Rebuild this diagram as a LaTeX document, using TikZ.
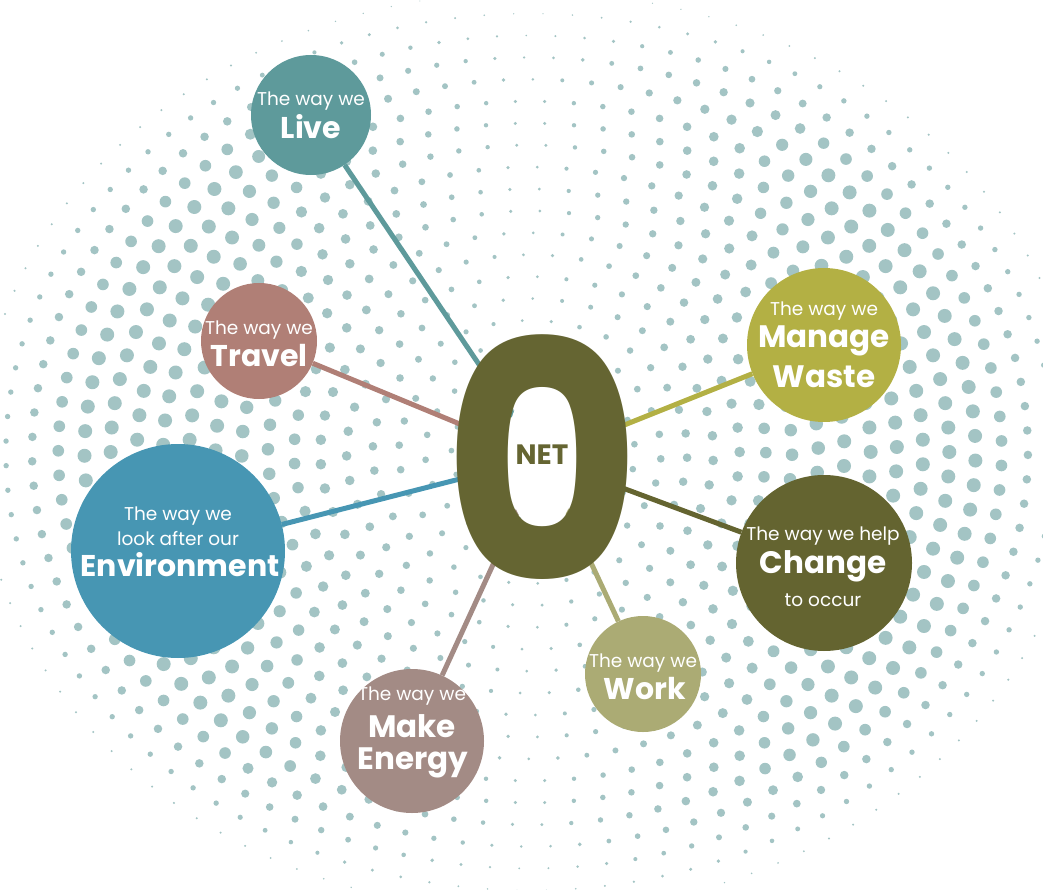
\documentclass[tikz,border=0pt]{standalone}
\usepackage{fontspec}
\setmainfont{Poppins}
\usetikzlibrary{positioning}
\definecolor{nzdot}{HTML}{A3C4C4}
\definecolor{nzlive}{HTML}{5E9A9B}
\definecolor{nztravel}{HTML}{B07F76}
\definecolor{nzenv}{HTML}{4796B3}
\definecolor{nzwaste}{HTML}{B3B044}
\definecolor{nzchange}{HTML}{646430}
\definecolor{nzwork}{HTML}{ABAB74}
\definecolor{nzenergy}{HTML}{A38B85}
\definecolor{nzzero}{HTML}{656532}

\tikzset{
  bubble/.style={circle, inner sep=0pt, minimum size=#1},
  spoke/.style={line width=5pt},
  waylbl/.style={text=white, inner sep=0pt, font=\fontsize{18.5}{18.5}\selectfont},
  keylbl/.style={text=white, inner sep=0pt, font=\bfseries\fontsize{#1}{#1}\selectfont},
  keylbl/.default=30,
}

\begin{document}
\begin{tikzpicture}[x=1pt, y=-1pt]
  \useasboundingbox (0,0) rectangle (1043,890);

  % halftone dots
  \foreach \k in {2,...,21}{
    \pgfmathsetmacro{\tk}{\k/20.3}
    \pgfmathtruncatemacro{\nk}{round(6.2832*\tk*490/27)}
    \pgfmathsetmacro{\stp}{360/\nk}
    \foreach \j in {1,...,\nk}{
      \pgfmathsetmacro{\ang}{\j*\stp+11*\k}
      \pgfmathsetmacro{\dx}{532*\tk*cos(\ang)}
      \pgfmathsetmacro{\dy}{445*\tk*sin(\ang)}
      \pgfmathsetmacro{\rd}{7*(0.2+0.8*min(1,abs(\dx)/300))*max(0,min(1,(1.07-\tk)/0.22))}
      \ifdim\rd pt>0.5pt \fill[nzdot] (530+\dx,452+\dy) circle (\rd); \fi
    }
  }

  % bubbles
  \node[bubble=120pt, fill=nzlive] (live) at (311,115) {};
  \node[bubble=116pt, fill=nztravel] (travel) at (259,341) {};
  \node[bubble=214pt, fill=nzenv] (env) at (178,551) {};
  \node[bubble=154pt, fill=nzwaste] (waste) at (824,345) {};
  \node[bubble=176pt, fill=nzchange] (change) at (824,563) {};
  \node[bubble=116pt, fill=nzwork] (work) at (643,674) {};
  \node[bubble=144pt, fill=nzenergy] (energy) at (412,741) {};

  % spokes
  \coordinate (hub) at (542,458);
  \draw[spoke, nzlive] (hub) -- (live);
  \draw[spoke, nztravel] (hub) -- (travel);
  \draw[spoke, nzenv] (hub) -- (env);
  \draw[spoke, nzwaste] (hub) -- (waste);
  \draw[spoke, nzchange] (hub) -- (change);
  \draw[spoke, nzwork] (hub) -- (work);
  \draw[spoke, nzenergy] (hub) -- (energy);

  % the zero
  \fill[white] (hub) circle [x radius=36, y radius=74];
  \node[inner sep=0pt, text=nzzero, font=\bfseries\fontsize{330}{330}\selectfont] (zero) at (hub) {\scalebox{0.92}[1]{0}};
  \node[inner sep=0pt, text=nzzero, font=\bfseries\fontsize{28}{28}\selectfont] (net) at (542,455) {NET};

  % labels
  \node[waylbl] (live-a) at (311,101) {The way we};
  \node[keylbl] (live-b) at (311,127) {Live};
  \node[waylbl] (travel-a) at (259,330) {The way we};
  \node[keylbl] (travel-b) at (259,356) {Travel};
  \node[waylbl] (env-a) at (178,516) {The way we};
  \node[waylbl] (env-b) at (178,539) {look after our};
  \node[keylbl] (env-c) at (180,565) {Environment};
  \node[waylbl] (waste-a) at (824,311) {The way we};
  \node[keylbl=31] (waste-b) at (824,341) {Manage};
  \node[keylbl=31] (waste-c) at (824,377) {Waste};
  \node[waylbl] (change-a) at (823,536) {The way we help};
  \node[keylbl=31] (change-b) at (823,566) {Change};
  \node[waylbl] (change-c) at (823,600) {to occur};
  \node[waylbl] (work-a) at (643,663) {The way we};
  \node[keylbl] (work-b) at (645,689) {Work};
  \node[waylbl] (energy-a) at (412,696) {The way we};
  \node[keylbl=31] (energy-b) at (412,726) {Make};
  \node[keylbl=31] (energy-c) at (413,763) {Energy};
\end{tikzpicture}
\end{document}
